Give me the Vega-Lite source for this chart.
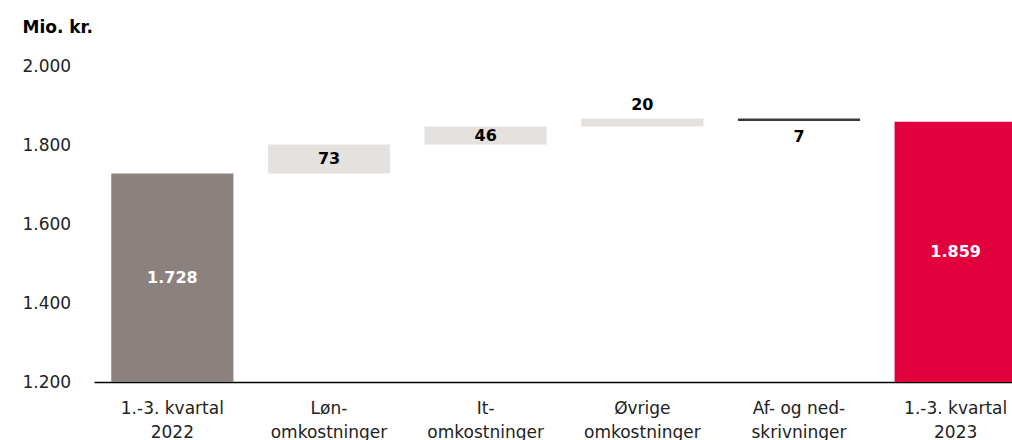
{
  "$schema": "https://vega.github.io/schema/vega-lite/v6.json",
  "autosize": "none",
  "width": 940,
  "height": 316,
  "padding": {"left": 94, "top": 66, "right": 0, "bottom": 58},
  "background": "white",
  "config": {"view": {"stroke": null}, "font": "DejaVu Sans"},
  "data": {"values": [
    {"category": "1.-3. kvartal\n2022", "start": 1200, "end": 1728, "value": 1728, "type": "total2022"},
    {"category": "Løn-\nomkostninger", "start": 1728, "end": 1801, "value": 73, "type": "increase"},
    {"category": "It-\nomkostninger", "start": 1801, "end": 1847, "value": 46, "type": "increase"},
    {"category": "Øvrige\nomkostninger", "start": 1847, "end": 1867, "value": 20, "type": "increase"},
    {"category": "Af- og ned-\nskrivninger", "start": 1867, "end": 1861, "value": 7, "type": "decrease"},
    {"category": "1.-3. kvartal\n2023", "start": 1200, "end": 1859, "value": 1859, "type": "total2023"}
  ]},
  "encoding": {
    "x": {"field": "category", "type": "nominal", "sort": null,
      "scale": {"paddingInner": 0.22, "paddingOuter": 0.11},
      "axis": {"title": null, "labelAngle": 0, "labelExpr": "split(datum.label, '\\n')",
        "labelFontSize": 17, "labelColor": "#222222", "labelPadding": 18, "labelLineHeight": 24,
        "labelBaseline": "top", "ticks": false, "domainColor": "#000000", "domainWidth": 1.5}}
  },
  "layer": [
    {
      "mark": {"type": "bar"},
      "encoding": {
        "y": {"field": "start", "type": "quantitative",
          "scale": {"domain": [1200, 2000], "nice": false, "zero": false},
          "axis": {"title": "Mio. kr.", "titleAngle": 0, "titleX": -72, "titleY": -39, "titleAlign": "left",
            "titleBaseline": "middle", "titleFontSize": 17, "titleFontWeight": "bold", "titleColor": "#000000",
            "values": [1200, 1400, 1600, 1800, 2000], "labelExpr": "replace(format(datum.value, ','), ',', '.')",
            "labelAlign": "left", "labelPadding": 72, "ticks": false, "domain": false, "grid": false,
            "labelFontSize": 17, "labelColor": "#222222", "labelBaseline": "middle"}},
        "y2": {"field": "end"},
        "color": {"field": "type", "type": "nominal", "legend": null,
          "scale": {"domain": ["total2022", "increase", "decrease", "total2023"],
            "range": ["#8b827f", "#e4e1df", "#3a3a3a", "#e2003c"]}}
      }
    },
    {
      "transform": [{"filter": "datum.type == 'total2022' || datum.type == 'total2023'"},
        {"calculate": "(datum.start + datum.end) / 2", "as": "mid"},
        {"calculate": "replace(format(datum.value, ','), ',', '.')", "as": "lbl"}],
      "mark": {"type": "text", "fontSize": 16, "fontWeight": "bold", "color": "white", "baseline": "middle"},
      "encoding": {
        "y": {"field": "mid", "type": "quantitative"},
        "text": {"field": "lbl", "type": "nominal"}
      }
    },
    {
      "transform": [{"filter": "datum.value == 73 || datum.value == 46"},
        {"calculate": "(datum.start + datum.end) / 2", "as": "mid"}],
      "mark": {"type": "text", "fontSize": 16, "fontWeight": "bold", "color": "#000000", "baseline": "middle"},
      "encoding": {
        "y": {"field": "mid", "type": "quantitative"},
        "text": {"field": "value", "type": "quantitative"}
      }
    },
    {
      "transform": [{"filter": "datum.value == 20"}],
      "mark": {"type": "text", "fontSize": 16, "fontWeight": "bold", "color": "#000000", "baseline": "middle", "dy": -14},
      "encoding": {
        "y": {"field": "end", "type": "quantitative"},
        "text": {"field": "value", "type": "quantitative"}
      }
    },
    {
      "transform": [{"filter": "datum.type == 'decrease'"}],
      "mark": {"type": "text", "fontSize": 16, "fontWeight": "bold", "color": "#000000", "baseline": "middle", "dy": 16},
      "encoding": {
        "y": {"field": "end", "type": "quantitative"},
        "text": {"field": "value", "type": "quantitative"}
      }
    }
  ]
}
